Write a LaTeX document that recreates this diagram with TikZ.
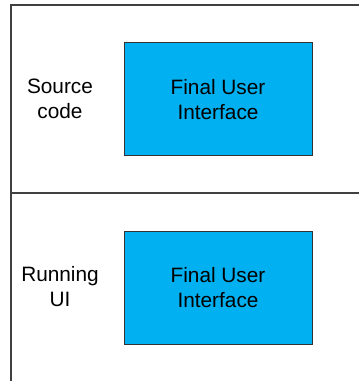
\documentclass[tikz,border=0pt]{standalone}
\usepackage{fontspec}
\setmainfont{Liberation Sans}
\begin{document}
\begin{tikzpicture}[x=1pt,y=-1pt,
  frameline/.style={draw=black!75, line width=1.4pt},
  uibox/.style={draw=black!80, line width=0.9pt, fill={rgb,255:red,0;green,176;blue,240},
    minimum width=188pt, minimum height=113pt, inner sep=0pt, align=center,
    font=\fontsize{20.8}{25}\selectfont},
  rowlabel/.style={inner sep=0pt, align=center, font=\fontsize{20.8}{25}\selectfont}]
\useasboundingbox (0,0) rectangle (359,381);
\coordinate (tl) at (11,5);
\coordinate (tr) at (359,5);
\coordinate (bl) at (11,381);
\coordinate (ml) at (11,193);
\coordinate (mr) at (359,193);
\draw[frameline] (bl) -- (tl) -- (tr);
\draw[frameline] (ml) -- (mr);
\node[uibox] (ui1) at (218,99.2) {Final User\\Interface};
\node[uibox] (ui2) at (218,287.7) {Final User\\Interface};
\node[rowlabel] (src) at (60,99) {Source\\code};
\node[rowlabel] (run) at (60,287) {Running\\UI};
\end{tikzpicture}
\end{document}
